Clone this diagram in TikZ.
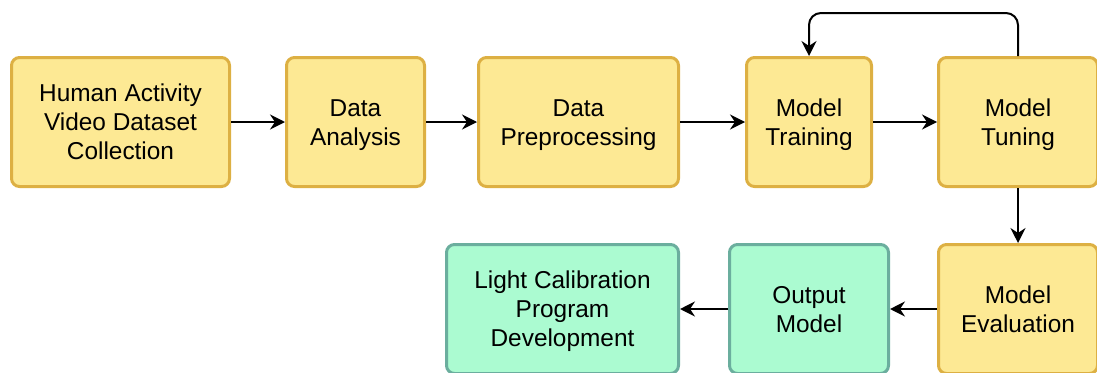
\documentclass[tikz,border=0pt]{standalone}
\usepackage{fontspec}
\setmainfont{Liberation Sans}
\usetikzlibrary{arrows.meta}
\definecolor{yfill}{HTML}{FDE994}
\definecolor{yline}{HTML}{DDB043}
\definecolor{gfill}{HTML}{ABFBD1}
\definecolor{gline}{HTML}{6BAE9E}
% fixed first-line height and last-line depth keep each text block evenly placed
\newcommand{\topstrut}{\rule{0pt}{23pt}}
\newcommand{\btmstrut}{\rule[-6pt]{0pt}{6pt}}
\tikzset{
  stage/.style={draw=yline, fill=yfill, line width=3pt, rounded corners=8pt,
    align=center, inner sep=0pt, minimum height=129pt,
    font=\fontsize{24.4pt}{29pt}\selectfont},
  result/.style={stage, draw=gline, fill=gfill},
  flow/.style={line width=2pt, -{Stealth[length=15pt,width=15pt,inset=5pt]}},
}
\begin{document}
\begin{tikzpicture}[x=1pt, y=-1pt]
  \useasboundingbox (0,0) rectangle (1097,372);
  % top row of the pipeline
  \node[stage, minimum width=218pt] (collect) at (120.5,122) {\topstrut Human Activity\\Video Dataset\\Collection\btmstrut};
  \node[stage, minimum width=138pt] (analysis) at (355.5,122) {\topstrut Data\\Analysis\btmstrut};
  \node[stage, minimum width=200pt] (prep) at (578.5,122) {\topstrut Data\\Preprocessing\btmstrut};
  \node[stage, minimum width=125pt] (train) at (809,122) {\topstrut Model\\Training\btmstrut};
  \node[stage, minimum width=159pt] (tune) at (1018,122) {\topstrut Model\\Tuning\btmstrut};
  % bottom row
  \node[stage, minimum width=159pt] (eval) at (1018,309) {\topstrut Model\\Evaluation\btmstrut};
  \node[result, minimum width=159pt] (out) at (809,309) {\topstrut Output\\Model\btmstrut};
  \node[result, minimum width=232pt] (light) at (562.5,309) {\topstrut Light Calibration\\Program\\Development\btmstrut};
  % connectors
  \draw[flow] (collect) -- (analysis);
  \draw[flow] (analysis) -- (prep);
  \draw[flow] (prep) -- (train);
  \draw[flow] (train) -- (tune);
  \draw[flow, rounded corners=12pt] (tune.north) -- ++(0,-43) -| (train.north);
  \draw[flow] (tune) -- (eval);
  \draw[flow] (eval) -- (out);
  \draw[flow] (out) -- (light);
\end{tikzpicture}
\end{document}
